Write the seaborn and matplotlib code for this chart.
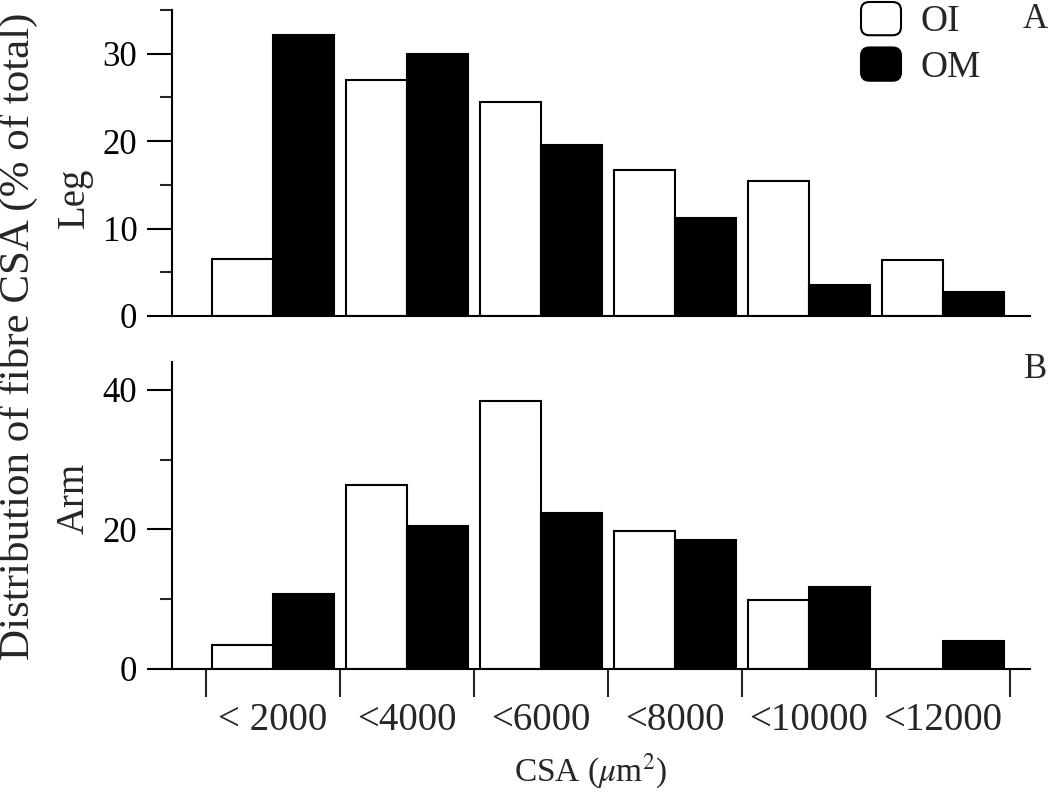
import numpy as np
import pandas as pd
import seaborn as sns
import matplotlib
matplotlib.use("Agg")
import matplotlib.pyplot as plt
from matplotlib.patches import FancyBboxPatch, Patch
from matplotlib.legend_handler import HandlerPatch

# ---- data ----
categories = ["< 2000", "<4000", "<6000", "<8000", "<10000", "<12000"]
groups = ["OI", "OM"]
leg_oi = [6.5, 27.0, 24.5, 16.7, 15.4, 6.4]
leg_om = [32.1, 30.0, 19.6, 11.2, 3.55, 2.8]
arm_oi = [3.4, 26.3, 38.4, 19.8, 9.9, 0.0]
arm_om = [10.7, 20.5, 22.3, 18.5, 11.7, 3.9]

sns.set_style("ticks")
plt.rcParams["font.family"] = ["Liberation Serif", "DejaVu Serif"]
plt.rcParams["mathtext.fontset"] = "stix"

FS = 25
W, H = 1050, 792
fig = plt.figure(figsize=(W / 100, H / 100), dpi=100)
ax1 = fig.add_axes([172 / W, 1 - 316 / H, 858 / W, 306 / H])
ax2 = fig.add_axes([172 / W, 1 - 668.5 / H, 858 / W, 306.5 / H])


def make_df(oi, om):
    return pd.DataFrame({
        "cat": categories * 2,
        "group": ["OI"] * len(categories) + ["OM"] * len(categories),
        "value": list(oi) + list(om),
    })


pal = {"OI": "white", "OM": "black"}
for ax, (oi, om) in zip([ax1, ax2], [(leg_oi, leg_om), (arm_oi, arm_om)]):
    sns.barplot(data=make_df(oi, om), x="cat", y="value", hue="group",
                order=categories, hue_order=groups, palette=pal,
                width=0.91, edgecolor="black", linewidth=1.5, saturation=1,
                errorbar=None, legend=False, ax=ax)
    ax.set_xlim(-0.75, 5.65)
    for s in ["top", "right"]:
        ax.spines[s].set_visible(False)
    for s in ["left", "bottom"]:
        ax.spines[s].set_linewidth(1.5)
        ax.spines[s].set_color("black")
    ax.set_xlabel("")
    ax.tick_params(axis="y", which="major", length=18, width=1.5, labelsize=FS,
                   pad=7, colors="black")
    ax.tick_params(axis="y", which="minor", length=8.6, width=1.5)

# top panel
ax1.set_ylim(0, 35)
ax1.set_yticks([0, 10, 20, 30])
ax1.set_yticks([5, 15, 25, 35], minor=True)
ax1.tick_params(axis="x", which="both", bottom=False, labelbottom=False)
ax1.set_ylabel("Leg", fontsize=28)
ax1.yaxis.set_label_coords((93 - 172) / 858, 0.386)

# bottom panel
ax2.set_ylim(0, 44)
ax2.set_yticks([0, 20, 40])
ax2.set_yticks([10, 30], minor=True)
ax2.set_xticks(np.arange(-0.5, len(categories), 1.0))
ax2.set_xticklabels([])
ax2.set_xticks(np.arange(len(categories)), minor=True)
ax2.set_xticklabels(categories, minor=True, fontsize=28)
ax2.tick_params(axis="x", which="major", length=20, width=1.5, direction="out")
ax2.tick_params(axis="x", which="minor", length=0, pad=24)
ax2.set_ylabel("Arm", fontsize=28)
ax2.yaxis.set_label_coords((93 - 172) / 858, 0.556)

fig.text(18 / W, 1 - 336 / H, "Distribution of fibre CSA (% of total)",
         rotation=90, ha="center", va="center", fontsize=31)
fig.text(591 / W, 1 - 771 / H, "CSA ($\\mu$m$^2$)", ha="center", va="center",
         fontsize=24)
fig.text(1048 / W, 1 - 20 / H, "A", ha="right", va="center", fontsize=FS)
fig.text(1047 / W, 1 - 370 / H, "B", ha="right", va="center", fontsize=FS)


class RoundedHandler(HandlerPatch):
    def create_artists(self, legend, orig_handle, xdescent, ydescent,
                       width, height, fontsize, trans):
        p = FancyBboxPatch((-xdescent, -ydescent), width, height,
                           boxstyle="round,pad=0,rounding_size=6",
                           facecolor=orig_handle.get_facecolor(),
                           edgecolor="black", linewidth=1.5, transform=trans)
        return [p]


LFS = 27
handles = [Patch(facecolor=pal[g], edgecolor="black") for g in groups]
fpx = LFS * 100 / 72
fig.legend(handles, groups, loc="upper left",
           bbox_to_anchor=(861 / W, 1 - 2 / H), frameon=False, borderpad=0,
           borderaxespad=0, fontsize=LFS, handlelength=40 / fpx,
           handleheight=37 / fpx, handletextpad=19 / fpx,
           labelspacing=8 / fpx,
           handler_map={Patch: RoundedHandler()})

fig.savefig("out.png", dpi=100)
